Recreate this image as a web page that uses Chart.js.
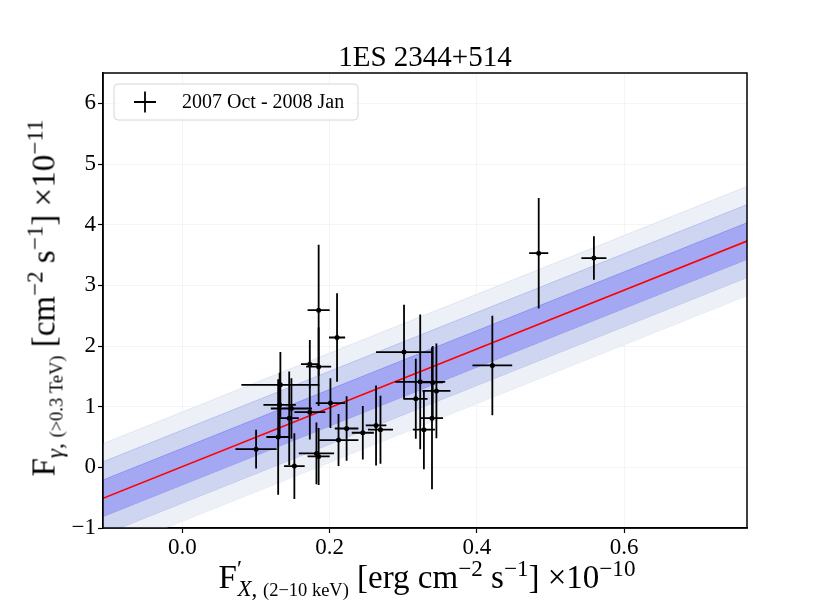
<!DOCTYPE html>
<html>
<head>
<meta charset="utf-8">
<script src="https://cdn.jsdelivr.net/npm/chart.js@4.4.0/dist/chart.umd.min.js"></script>
<style>
  html, body { margin: 0; padding: 0; background: #fff; }
  #wrap { position: relative; width: 830px; height: 604px; }
  #c { position: absolute; left: 0; top: 0; }
  .lbl { position: absolute; font-family: "Liberation Serif", serif; color: #000; white-space: nowrap; font-size: 33px; line-height: 1; }
  .lbl sub, .lbl sup { font-size: 0.7em; line-height: 0; }
  #xlab { left: 427px; top: 561px; transform: translateX(-50%); }
  #ylab { left: 44px; top: 298px; transform: translate(-50%, -50%) rotate(-90deg); }
</style>
</head>
<body>
<div id="wrap">
  <canvas id="c" width="830" height="604"></canvas>
  <div class="lbl" id="xlab">F<sup style="margin-right:-0.2em">′</sup><sub><i>X</i>, <span style="font-size:0.8em">(2−10 keV)</span></sub> [erg cm<sup>−2</sup> s<sup>−1</sup>] ×10<sup>−10</sup></div>
  <div class="lbl" id="ylab">F<sub><i>γ</i>, <span style="font-size:0.8em">(&gt;0.3 TeV)</span></sub> [cm<sup>−2</sup> s<sup>−1</sup>] ×10<sup>−11</sup></div>
</div>
<script>
// X-ray flux (x10^-10) and errors
const fluxX    = [0.100, 0.130, 0.133, 0.132, 0.148, 0.145, 0.152, 0.173, 0.173, 0.185,
                  0.185, 0.182, 0.185, 0.201, 0.210, 0.212, 0.223, 0.245, 0.263, 0.269,
                  0.301, 0.317, 0.323, 0.328, 0.340, 0.345, 0.339, 0.421, 0.484, 0.559];
const fluxXErr = [0.028, 0.016, 0.053, 0.022, 0.028, 0.013, 0.014, 0.012, 0.021, 0.015,
                  0.017, 0.024, 0.015, 0.020, 0.011, 0.027, 0.016, 0.015, 0.014, 0.017,
                  0.038, 0.016, 0.034, 0.015, 0.014, 0.019, 0.015, 0.027, 0.013, 0.017];
// gamma-ray flux (x10^-11) and errors
const fluxG    = [0.30, 0.50, 1.36, 1.03, 0.97, 0.81, 0.02, 1.70, 0.91, 2.59,
                  1.66, 0.23, 0.18, 1.06, 2.14, 0.45, 0.64, 0.57, 0.69, 0.62,
                  1.90, 1.13, 1.41, 0.62, 1.40, 1.26, 0.81, 1.68, 3.53, 3.45];
const fluxGErr = [0.32, 0.95, 0.54, 0.53, 0.50, 0.77, 0.54, 0.40, 0.45, 1.08,
                  0.65, 0.51, 0.47, 0.41, 0.73, 0.43, 0.53, 0.44, 0.66, 0.56,
                  0.78, 0.66, 1.11, 0.65, 0.60, 0.78, 1.17, 0.82, 0.91, 0.36];

// linear fit read at the axis ends, and band half widths (1, 2, 3 sigma)
const fitX = [-0.108, 0.767];
const fitY = [-0.51, 3.73];
const bandWidth = [0.3, 0.6, 0.9];

const xTicks = [0.0, 0.2, 0.4, 0.6];
const yTicks = [-1, 0, 1, 2, 3, 4, 5, 6];

const seriesLabel = '2007 Oct - 2008 Jan';
const titleText = '1ES 2344+514';

const bandFill = ['#a4a8f3', '#cdd5f1', '#edf0f7'];
const bandEdge = ['#8e94ef', '#b6c2ef', '#dfe5f4'];

const serif = '"Liberation Serif", serif';

function line(ys) {
  return fitX.map((v, i) => ({x: v, y: ys[i]}));
}

const datasets = [];
datasets.push({
  type: 'scatter',
  label: seriesLabel,
  data: fluxX.map((v, i) => ({x: v, y: fluxG[i]})),
  pointRadius: 2.5,
  pointBackgroundColor: '#000',
  pointBorderWidth: 0,
  order: 0
});
datasets.push({
  type: 'line',
  data: line(fitY),
  borderColor: '#ff0000',
  borderWidth: 1.6,
  pointRadius: 0,
  fill: false,
  order: 1
});
bandWidth.forEach((w, k) => {
  datasets.push({
    type: 'line',
    data: line(fitY.map(v => v + w)),
    borderColor: bandEdge[k],
    borderWidth: 1,
    backgroundColor: bandFill[k],
    pointRadius: 0,
    fill: '+1',
    order: 2 + k
  });
  datasets.push({
    type: 'line',
    data: line(fitY.map(v => v - w)),
    borderColor: bandEdge[k],
    borderWidth: 1,
    pointRadius: 0,
    fill: false,
    order: 2 + k
  });
});

const errorBars = {
  id: 'errorBars',
  afterDatasetsDraw(chart) {
    const {ctx, chartArea, scales: {x, y}} = chart;
    ctx.save();
    ctx.beginPath();
    ctx.rect(chartArea.left, chartArea.top, chartArea.width, chartArea.height);
    ctx.clip();
    ctx.strokeStyle = '#000';
    ctx.lineWidth = 1.8;
    fluxX.forEach((v, i) => {
      const px = x.getPixelForValue(v);
      const py = y.getPixelForValue(fluxG[i]);
      ctx.beginPath();
      ctx.moveTo(x.getPixelForValue(v - fluxXErr[i]), py);
      ctx.lineTo(x.getPixelForValue(v + fluxXErr[i]), py);
      ctx.moveTo(px, y.getPixelForValue(fluxG[i] - fluxGErr[i]));
      ctx.lineTo(px, y.getPixelForValue(fluxG[i] + fluxGErr[i]));
      ctx.stroke();
    });
    ctx.restore();
  }
};

const frameAndLegend = {
  id: 'frameAndLegend',
  afterDraw(chart) {
    const {ctx, chartArea: a} = chart;
    ctx.save();
    ctx.strokeStyle = '#000';
    ctx.lineWidth = 1.5;
    ctx.strokeRect(a.left, a.top, a.width, a.height);

    // legend box
    const bx = a.left + 11, by = a.top + 11, bw = 244, bh = 36;
    ctx.beginPath();
    ctx.roundRect(bx, by, bw, bh, 4);
    ctx.fillStyle = 'rgba(255,255,255,0.8)';
    ctx.fill();
    ctx.strokeStyle = '#d6d6d6';
    ctx.lineWidth = 1;
    ctx.stroke();

    const cx = bx + 31, cy = by + bh / 2;
    ctx.strokeStyle = '#000';
    ctx.lineWidth = 1.8;
    ctx.beginPath();
    ctx.moveTo(cx - 11, cy); ctx.lineTo(cx + 11, cy);
    ctx.moveTo(cx, cy - 10.5); ctx.lineTo(cx, cy + 10.5);
    ctx.stroke();

    ctx.font = '20px ' + serif;
    ctx.textBaseline = 'alphabetic';
    ctx.textAlign = 'left';
    ctx.fillStyle = '#000';
    ctx.fillText(seriesLabel, bx + 68, by + 24);
    ctx.restore();
  }
};

new Chart(document.getElementById('c'), {
  data: {datasets},
  options: {
    responsive: false,
    animation: false,
    // left/right padding chosen so the title box is centred over the plot
    layout: {padding: {left: 20, right: 0, top: 0, bottom: 0}},
    plugins: {
      legend: {display: false},
      tooltip: {enabled: false},
      title: {
        display: true,
        text: titleText,
        color: '#000',
        font: {family: serif, size: 29, weight: 'normal', lineHeight: 1},
        padding: {top: 44, bottom: 0}
      }
    },
    scales: {
      x: {
        type: 'linear',
        min: fitX[0],
        max: fitX[1],
        afterBuildTicks: s => { s.ticks = xTicks.map(v => ({value: v})); },
        afterFit: s => { s.height = 76; },
        ticks: {
          color: '#000',
          font: {family: serif, size: 23},
          padding: 1,
          callback: v => v.toFixed(1)
        },
        grid: {color: 'rgba(0,0,0,0.04)', tickColor: '#000', tickLength: 5, tickWidth: 1.2},
        border: {color: '#000', width: 1.5}
      },
      y: {
        type: 'linear',
        min: -1,
        max: 6.5,
        afterBuildTicks: s => { s.ticks = yTicks.map(v => ({value: v})); },
        afterFit: s => { s.width = 83; },
        ticks: {
          color: '#000',
          font: {family: serif, size: 23},
          padding: 2,
          callback: v => (v < 0 ? '\u2212' + Math.abs(v) : String(v))
        },
        grid: {color: 'rgba(0,0,0,0.04)', tickColor: '#000', tickLength: 5, tickWidth: 1.2},
        border: {color: '#000', width: 1.5}
      },
      yRight: {
        type: 'linear',
        position: 'right',
        min: -1,
        max: 6.5,
        afterFit: s => { s.width = 83; },
        ticks: {display: false},
        grid: {display: false, drawTicks: false},
        border: {display: false}
      }
    }
  },
  plugins: [errorBars, frameAndLegend]
});
</script>
</body>
</html>
